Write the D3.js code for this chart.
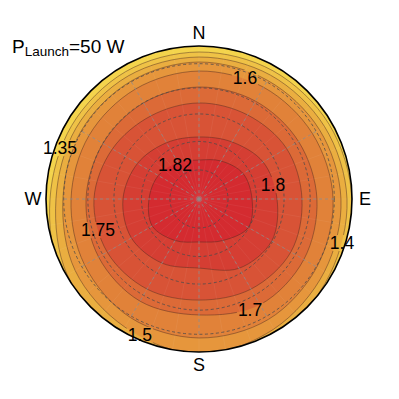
<!DOCTYPE html>
<html><head><meta charset="utf-8">
<script src="https://cdn.jsdelivr.net/npm/d3@7"></script>
<style>html,body{margin:0;padding:0;background:#fff;} svg{display:block;}</style>
</head><body><svg id="chart" width="399" height="399"></svg>
<script>
// ---- data ----
const azimuths = [0, 30, 60, 90, 120, 150, 180, 210, 240, 270, 300, 330];   // degrees, clockwise from N
const levels = [1.35, 1.4, 1.5, 1.6, 1.7, 1.75, 1.8, 1.82];
// zenith angle (deg) at which each contour level is crossed, per azimuth
const zen135 = [82.8, 83.5, 84.9, 87.0, 90.6, 95.9, 99.8, 95.9, 90.6, 84.2, 82.8, 82.8];
const zen140 = [79.4, 80.1, 81.4, 83.5, 85.6, 90.6, 94.3, 90.6, 86.3, 80.1, 79.4, 79.4];
const zen150 = [76.1, 76.1, 77.4, 79.4, 81.4, 84.9, 88.4, 83.5, 80.1, 75.5, 75.5, 75.5];
const zen160 = [70.3, 71.0, 72.2, 74.2, 75.5, 77.4, 77.4, 76.1, 72.9, 70.3, 69.7, 69.7];
const zen170 = [60.5, 61.1, 62.3, 64.1, 66.0, 66.6, 62.9, 64.1, 62.9, 61.1, 59.9, 59.9];
const zen175 = [51.2, 51.8, 54.1, 55.2, 57.0, 55.8, 54.1, 55.8, 57.0, 56.4, 53.5, 51.2];
const zen180 = [32.4, 34.5, 38.9, 41.1, 44.4, 42.2, 36.2, 38.9, 41.1, 40.0, 37.3, 34.0];
const zen182 = [20.2, 22.8, 26.5, 27.6, 29.7, 24.9, 22.3, 24.9, 28.1, 26.0, 24.4, 21.8];
const contourZenith = [zen135, zen140, zen150, zen160, zen170, zen175, zen180, zen182];
const bandColors = ["#f4d44c", "#efc246", "#eaae40", "#e6963c", "#e18239", "#dc6a37", "#d85336", "#d53e33", "#d42b30"];

const gridZenith = [15, 30, 45, 60, 75];
const spokeAzimuths = [0, 30, 60, 90, 120, 150, 180, 210, 240, 270, 300, 330];
const compassText = ["N", "E", "S", "W"];
const compassAz = [0, 90, 180, 270];

const labelText = ["1.82", "1.8", "1.75", "1.7", "1.6", "1.5", "1.4", "1.35"];
const labelAz   = [324.8, 79.3, 252.9, 155.3, 20.8, 203.5, 107.1, 290.1];
const labelZen  = [21.6, 39.6, 56.8, 66.7, 71.2, 83.6, 84.6, 83.5];

// ---- layout ----
const cx = 199, cy = 199, R = 153, zenithMax = 87;
const rad = d => d * Math.PI / 180;
const rScale = d3.scaleLinear().domain([0, Math.sin(rad(zenithMax / 2))]).range([0, R]);
const rOf = z => rScale(Math.sin(rad(z / 2)));
const font = "Liberation Sans, Arial, Helvetica, sans-serif";

const svg = d3.select("#chart");
const defs = svg.append("defs");
const g = svg.append("g").attr("transform", `translate(${cx},${cy})`);

defs.append("clipPath").attr("id", "disk").append("circle").attr("r", R);

const plot = g.append("g").attr("clip-path", "url(#disk)");

// background band (below lowest level)
plot.append("circle").attr("r", R).attr("fill", bandColors[0]);

const line = d3.lineRadial()
  .angle(d => rad(d[0]))
  .radius(d => rOf(d[1]))
  .curve(d3.curveCatmullRomClosed.alpha(0.5));

contourZenith.forEach((zs, i) => {
  const pts = azimuths.map((a, j) => [a, zs[j]]);
  plot.append("path").attr("d", line(pts)).attr("fill", bandColors[i + 1]);
});

// faint mesh streaks
d3.range(0, 360, 10).forEach(a => {
  plot.append("line").attr("x1", 0).attr("y1", 0)
    .attr("x2", R * Math.sin(rad(a))).attr("y2", -R * Math.cos(rad(a)))
    .attr("stroke", "#ffffff").attr("stroke-opacity", 0.07).attr("stroke-width", 0.8);
});

const linesG = plot.append("g").attr("mask", "url(#labelMask)");
contourZenith.forEach((zs) => {
  const pts = azimuths.map((a, j) => [a, zs[j]]);
  linesG.append("path").attr("d", line(pts))
    .attr("fill", "none").attr("stroke", "#4a2a22").attr("stroke-opacity", 0.65).attr("stroke-width", 0.7);
});

// grid
gridZenith.forEach(z => {
  plot.append("circle").attr("r", rOf(z)).attr("fill", "none")
    .attr("stroke", "#4d4d4d").attr("stroke-width", 0.8).attr("stroke-dasharray", "3,2.5");
});
const rSpoke = rOf(d3.max(gridZenith));
spokeAzimuths.forEach(a => {
  plot.append("line").attr("x1", 0).attr("y1", 0)
    .attr("x2", rSpoke * Math.sin(rad(a))).attr("y2", -rSpoke * Math.cos(rad(a)))
    .attr("stroke", "#8a8a8a").attr("stroke-width", 0.8).attr("stroke-dasharray", "3,3");
});
plot.append("circle").attr("r", 1.6).attr("fill", "#8a8a8a");

// outer boundary
g.append("circle").attr("r", R).attr("fill", "none").attr("stroke", "#000").attr("stroke-width", 1.6);

// contour labels
const mask = defs.append("mask").attr("id", "labelMask").attr("maskUnits", "userSpaceOnUse")
  .attr("x", -R - 5).attr("y", -R - 5).attr("width", 2 * R + 10).attr("height", 2 * R + 10);
mask.append("rect").attr("x", -R - 5).attr("y", -R - 5).attr("width", 2 * R + 10).attr("height", 2 * R + 10).attr("fill", "#fff");
labelText.forEach((t, i) => {
  const rr = rOf(labelZen[i]), a = rad(labelAz[i]);
  const txt = g.append("text").attr("x", rr * Math.sin(a)).attr("y", -rr * Math.cos(a))
    .attr("text-anchor", "middle").attr("dominant-baseline", "central")
    .attr("font-family", font).attr("font-size", 17.5)
    .attr("fill", "#000").text(t);
  const b = txt.node().getBBox();
  mask.append("rect").attr("x", b.x - 1).attr("y", b.y + 2).attr("width", b.width + 2).attr("height", b.height - 4).attr("fill", "#000");
});

// compass labels
compassText.forEach((t, i) => {
  const rr = R + 13, a = rad(compassAz[i]);
  g.append("text").attr("x", rr * Math.sin(a)).attr("y", -rr * Math.cos(a))
    .attr("text-anchor", "middle").attr("dominant-baseline", "central")
    .attr("font-family", font).attr("font-size", 18)
    .attr("fill", "#000").text(t);
});

// title
const title = svg.append("text").attr("x", 12).attr("y", 53)
  .attr("font-family", font).attr("font-size", 19).attr("fill", "#000");
title.append("tspan").text("P");
title.append("tspan").attr("font-size", 13.5).attr("dy", 2.5).text("Launch");
title.append("tspan").attr("dy", -2.5).text("=50 W");
</script></body></html>
